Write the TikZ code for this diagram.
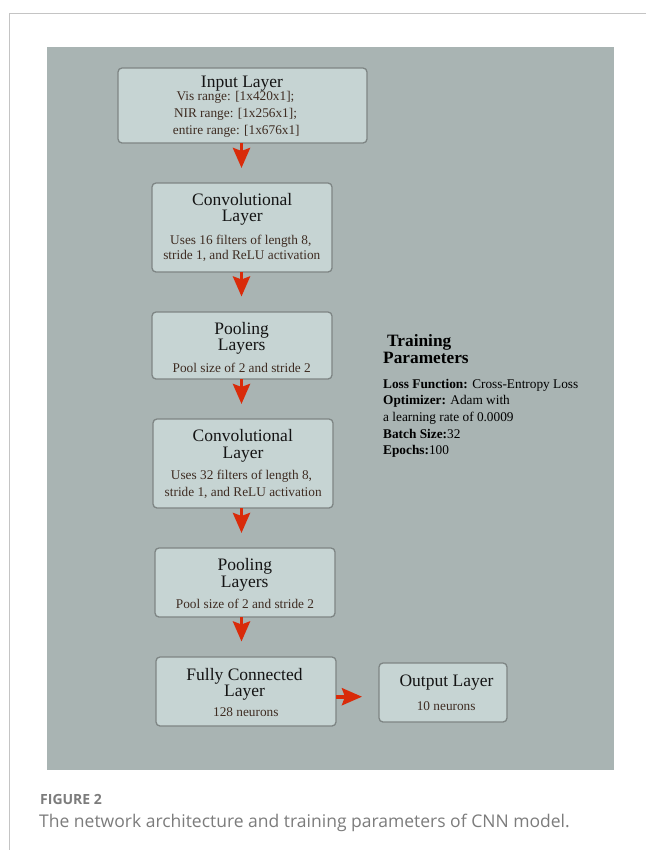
\documentclass[tikz,border=0pt]{standalone}
\usepackage{fontspec}
\setmainfont{Liberation Serif}
\newfontfamily\capfont{Open Sans}
\usetikzlibrary{arrows.meta}
\definecolor{panel}{HTML}{A9B4B3}
\definecolor{boxfill}{HTML}{C6D4D3}
\definecolor{boxline}{HTML}{7E8584}
\definecolor{arrowred}{HTML}{D92B0A}
\definecolor{bodytxt}{HTML}{3E2C22}
\definecolor{frameline}{HTML}{C4C4C4}
\definecolor{captxt}{HTML}{7C7C7C}
\begin{document}
\begin{tikzpicture}[x=1pt,y=-1pt,
  layerbox/.style={draw=boxline, line width=1.3pt, fill=boxfill, rounded corners=4pt, anchor=north west, inner sep=0pt, outer sep=0pt},
  ttl/.style={anchor=base, inner sep=0pt, font=\fontsize{17.5}{20}\selectfont, text=black!92},
  bdy/.style={anchor=base, inner sep=0pt, font=\fontsize{13.3}{16}\selectfont, text=bodytxt},
  prm/.style={anchor=base west, inner sep=0pt, font=\fontsize{13.3}{16}\selectfont, text=black},
  prmhead/.style={anchor=base west, inner sep=0pt, font=\bfseries\fontsize{17.3}{20}\selectfont, text=black},
  flow/.style={draw=arrowred, line width=3.8pt, -{Stealth[length=20pt,width=17pt,inset=3pt]}},
]
\useasboundingbox (0,0) rectangle (646,852);
\fill[white] (0,0) rectangle (646,852);
% frame
\draw[frameline, line width=1pt] (646,13.3) -- (9.3,13.3) -- (9.3,850);
% panel
\fill[panel] (47,47) rectangle (614,770);

% boxes
\node[layerbox, minimum width=249pt, minimum height=75pt] (inp) at (118,68) {};
\node[layerbox, minimum width=180pt, minimum height=89pt] (conv1) at (152,183) {};
\node[layerbox, minimum width=180pt, minimum height=67pt] (pool1) at (152,312) {};
\node[layerbox, minimum width=180pt, minimum height=89pt] (conv2) at (153,419) {};
\node[layerbox, minimum width=180pt, minimum height=69pt] (pool2) at (155,548) {};
\node[layerbox, minimum width=180pt, minimum height=69pt] (fc) at (156,657) {};
\node[layerbox, minimum width=128pt, minimum height=59pt] (out) at (379,663) {};

% texts
\node[ttl] (inpT) at (242,87.3) {Input Layer};
\node[bdy] (inpA) at (235.5,100.7) {Vis range: [1x420x1];};
\node[bdy] (inpB) at (235.5,117.3) {NIR range: [1x256x1];};
\node[bdy] (inpC) at (236.3,134.3) {entire range: [1x676x1]};

\node[ttl] (c1T) at (242.2,205) {Convolutional};
\node[ttl] (c1U) at (242.2,221.7) {Layer};
\node[bdy] (c1A) at (240.8,244) {Uses 16 filters of length 8,};
\node[bdy] (c1B) at (241.8,259.6) {stride 1, and ReLU activation};

\node[ttl] (p1T) at (241.7,334.3) {Pooling};
\node[ttl] (p1U) at (241.7,350.7) {Layers};
\node[bdy] (p1A) at (241.7,372.3) {Pool size of 2 and stride 2};

\node[ttl] (c2T) at (242.8,441.7) {Convolutional};
\node[ttl] (c2U) at (243,458.3) {Layer};
\node[bdy] (c2A) at (241.5,479.5) {Uses 32 filters of length 8,};
\node[bdy] (c2B) at (243.2,496.7) {stride 1, and ReLU activation};

\node[ttl] (p2T) at (244.8,570.7) {Pooling};
\node[ttl] (p2U) at (244.7,587.3) {Layers};
\node[bdy] (p2A) at (245,608.3) {Pool size of 2 and stride 2};

\node[ttl] (fcT) at (244.5,680) {Fully Connected};
\node[ttl] (fcU) at (244.5,696.7) {Layer};
\node[bdy] (fcA) at (245.8,716.7) {128 neurons};

\node[ttl] (outT) at (446.5,686) {Output Layer};
\node[bdy] (outA) at (446.2,710) {10 neurons};

% training parameters
\node[prmhead] (trA) at (387,346) {Training};
\node[prmhead] (trB) at (383,363) {Parameters};
\node[prm] (tr1) at (383,388) {\textbf{Loss Function:} Cross-Entropy Loss};
\node[prm] (tr2) at (383,404.5) {\textbf{Optimizer:} Adam with};
\node[prm] (tr3) at (383,421) {a learning rate of 0.0009};
\node[prm] (tr4) at (383,438) {\textbf{Batch Size:}32};
\node[prm] (tr5) at (383,454.5) {\textbf{Epochs:}100};

% arrows
\coordinate (ax) at (241.5,0);
\coordinate (hy) at (0,696.7);
\draw[flow, shorten >=15pt] (inp.south -| ax) -- (conv1.north -| ax);
\draw[flow, shorten >=15.5pt] (conv1.south -| ax) -- (pool1.north -| ax);
\draw[flow, shorten >=15pt] (pool1.south -| ax) -- (conv2.north -| ax);
\draw[flow, shorten >=15pt] (conv2.south -| ax) -- (pool2.north -| ax);
\draw[flow, shorten >=15.5pt] (pool2.south -| ax) -- (fc.north -| ax);
\draw[flow, shorten >=17pt] (fc.east |- hy) -- (out.west |- hy);

% caption
\node[anchor=base west, inner sep=0pt, font=\capfont\bfseries\fontsize{14}{16}\selectfont, text=captxt] (figlab) at (40,804) {FIGURE 2};
\node[anchor=base west, inner sep=0pt, font=\capfont\fontsize{17.5}{20}\selectfont, text=captxt] (figcap) at (39,827) {The network architecture and training parameters of CNN model.};
\end{tikzpicture}
\end{document}
